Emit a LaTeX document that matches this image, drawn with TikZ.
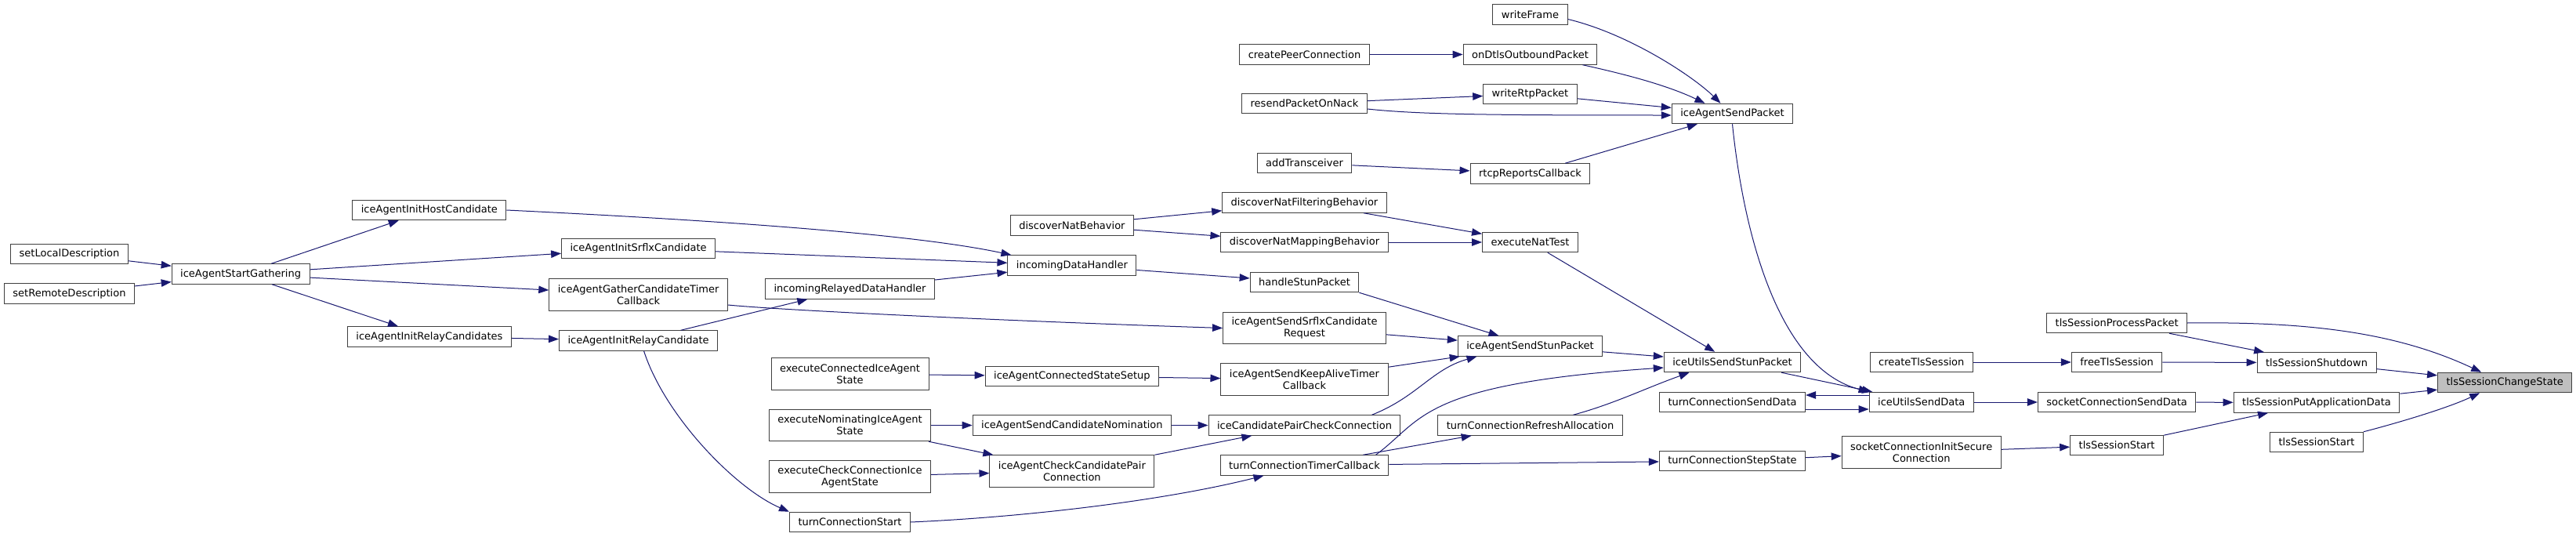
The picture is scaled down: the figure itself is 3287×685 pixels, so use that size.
\documentclass[tikz,border=0pt]{standalone}
\usepackage{fontspec}
\setmainfont{DejaVu Sans}
\usetikzlibrary{arrows.meta}
\definecolor{edgeblue}{HTML}{191970}
\definecolor{boxline}{HTML}{404040}
\definecolor{rootfill}{HTML}{BFBFBF}
\begin{document}
\begin{tikzpicture}[x=1pt, y=-1pt,
    fn/.style={draw=boxline, line width=1pt, fill=white, inner xsep=11pt, inner ysep=1pt,
      minimum height=25.5pt, align=center, font=\fontsize{13}{15}\selectfont},
    fn2/.style={fn, minimum height=40.5pt},
    root/.style={fn, fill=rootfill},
    call/.style={draw=edgeblue, line width=1pt, -{Triangle[length=13pt,width=9.5pt]}}]
    \useasboundingbox (0,0) rectangle (3287,685);
    \node[fn] (setLocal) at (88.5,324) {setLocalDescription};
    \node[fn] (setRemote) at (88.5,374.5) {setRemoteDescription};
    \node[fn] (gather) at (307.1,349.5) {iceAgentStartGathering};
    \node[fn] (initHost) at (547.9,268) {iceAgentInitHostCandidate};
    \node[fn] (initRelays) at (547.9,429.5) {iceAgentInitRelayCandidates};
    \node[fn] (initSrflx) at (814.6,317) {iceAgentInitSrflxCandidate};
    \node[fn2] (gatherTimer) at (814.6,376) {iceAgentGatherCandidateTimer\\Callback};
    \node[fn] (initRelay) at (814.6,434.5) {iceAgentInitRelayCandidate};
    \node[fn] (relayedHandler) at (1084.5,368.5) {incomingRelayedDataHandler};
    \node[fn2] (execConnected) at (1084.5,477) {executeConnectedIceAgent\\State};
    \node[fn2] (execNominating) at (1084.5,542.5) {executeNominatingIceAgent\\State};
    \node[fn2] (execCheck) at (1084.5,608) {executeCheckConnectionIce\\AgentState};
    \node[fn] (turnStart) at (1084.5,666) {turnConnectionStart};
    \node[fn] (natBehavior) at (1367.9,287.5) {discoverNatBehavior};
    \node[fn] (dataHandler) at (1367.9,338.5) {incomingDataHandler};
    \node[fn] (connectedSetup) at (1367.9,480) {iceAgentConnectedStateSetup};
    \node[fn] (sendNomination) at (1367.9,542.5) {iceAgentSendCandidateNomination};
    \node[fn2] (checkPair) at (1367.9,601) {iceAgentCheckCandidatePair\\Connection};
    \node[fn] (createPC) at (1664.5,69.5) {createPeerConnection};
    \node[fn] (resendNack) at (1664.5,132) {resendPacketOnNack};
    \node[fn] (addTrans) at (1664.5,208) {addTransceiver};
    \node[fn] (natFiltering) at (1664.5,258.5) {discoverNatFilteringBehavior};
    \node[fn] (natMapping) at (1664.5,309) {discoverNatMappingBehavior};
    \node[fn] (handleStun) at (1664.5,360) {handleStunPacket};
    \node[fn2] (srflxRequest) at (1664.5,418.5) {iceAgentSendSrflxCandidate\\Request};
    \node[fn2] (keepAlive) at (1664.5,484) {iceAgentSendKeepAliveTimer\\Callback};
    \node[fn] (pairCheck) at (1664.5,542.5) {iceCandidatePairCheckConnection};
    \node[fn] (turnTimer) at (1664.5,593.5) {turnConnectionTimerCallback};
    \node[fn] (writeFrame) at (1952.5,18.5) {writeFrame};
    \node[fn] (dtlsOut) at (1952.5,69.5) {onDtlsOutboundPacket};
    \node[fn] (writeRtp) at (1952.5,120) {writeRtpPacket};
    \node[fn] (rtcpReports) at (1952.5,221.5) {rtcpReportsCallback};
    \node[fn] (natTest) at (1952.5,309) {executeNatTest};
    \node[fn] (sendStun) at (1952.5,441.5) {iceAgentSendStunPacket};
    \node[fn] (turnRefresh) at (1952.5,542.5) {turnConnectionRefreshAllocation};
    \node[fn] (sendPacket) at (2210.5,145) {iceAgentSendPacket};
    \node[fn] (utilsStun) at (2210.5,462) {iceUtilsSendStunPacket};
    \node[fn] (turnSend) at (2210.5,513) {turnConnectionSendData};
    \node[fn] (turnStep) at (2210.5,588) {turnConnectionStepState};
    \node[fn] (createTls) at (2451.7,462) {createTlsSession};
    \node[fn] (utilsData) at (2451.7,513) {iceUtilsSendData};
    \node[fn2] (initSecure) at (2451.7,577) {socketConnectionInitSecure\\Connection};
    \node[fn] (tlsProcess) at (2701.1,412) {tlsSessionProcessPacket};
    \node[fn] (freeTls) at (2701.1,462) {freeTlsSession};
    \node[fn] (socketSend) at (2701.1,513) {socketConnectionSendData};
    \node[fn] (tlsStartA) at (2701.1,568) {tlsSessionStart};
    \node[fn] (tlsShutdown) at (2956,462.5) {tlsSessionShutdown};
    \node[fn] (tlsPut) at (2956,513.5) {tlsSessionPutApplicationData};
    \node[fn] (tlsStartB) at (2956,564) {tlsSessionStart};
    \node[root] (tlsChange) at (3196.2,488) {tlsSessionChangeState};
    \draw[call] (setLocal) -- (gather);
    \draw[call] (setRemote) -- (gather);
    \draw[call] (gather) -- (initHost);
    \draw[call] (gather) -- (initRelays);
    \draw[call] (gather) -- (initSrflx);
    \draw[call] (gather) -- (gatherTimer);
    \draw[call] (initRelays) -- (initRelay);
    \draw[call] (initRelay) -- (relayedHandler);
    \draw[call] ([xshift=7pt]initRelay.south) .. controls (848,530) and (938,623) .. (turnStart.north west);
    \draw[call] (initHost.east) .. controls (850,278) and (1150,295) .. ([xshift=5pt]dataHandler.north west);
    \draw[call] (initSrflx) -- (dataHandler);
    \draw[call] (relayedHandler) -- (dataHandler);
    \draw[call] ([yshift=-13pt]gatherTimer.east) .. controls (1000,396) and (1300,410) .. (srflxRequest.west);
    \draw[call] (natBehavior) -- (natFiltering);
    \draw[call] (natBehavior) -- (natMapping);
    \draw[call] (dataHandler) -- (handleStun);
    \draw[call] (natFiltering) -- (natTest);
    \draw[call] (natMapping) -- (natTest);
    \draw[call] (createPC) -- (dtlsOut);
    \draw[call] (resendNack) -- (writeRtp);
    \draw[call] ([yshift=-7pt]resendNack.east) .. controls (1810,146) and (1900,147) .. ([yshift=-2pt]sendPacket.west);
    \draw[call] (addTrans) -- (rtcpReports);
    \draw[call] ([yshift=-6pt]writeFrame.east) .. controls (2078,43) and (2160,97) .. ([xshift=-15pt]sendPacket.north);
    \draw[call] ([xshift=67pt]dtlsOut.south) .. controls (2080,96) and (2130,110) .. ([xshift=-35pt]sendPacket.north);
    \draw[call] (writeRtp) -- (sendPacket);
    \draw[call] (rtcpReports) -- (sendPacket);
    \draw[call] (natTest) -- (utilsStun);
    \draw[call] (sendPacket.south) .. controls (2225,300) and (2270,470) .. (utilsData.north west);
    \draw[call] (handleStun.south east) -- ([xshift=-40pt]sendStun.north);
    \draw[call] (srflxRequest) -- (sendStun);
    \draw[call] (keepAlive) -- (sendStun);
    \draw[call] ([xshift=86pt]pairCheck.north) .. controls (1809,506) and (1827,471) .. ([xshift=-68pt]sendStun.south);
    \draw[call] (sendStun) -- (utilsStun);
    \draw[call] ([xshift=91pt]turnTimer.north) .. controls (1816,536) and (1810,490) .. ([yshift=-7pt]utilsStun.west);
    \draw[call] (turnTimer) -- (turnRefresh);
    \draw[call] (turnTimer) -- (turnStep);
    \draw[call] ([xshift=55pt]turnRefresh.north) .. controls (2060,515) and (2100,495) .. ([xshift=-55pt]utilsStun.south);
    \draw[call] (utilsStun) -- (utilsData);
    \draw[call] ([yshift=9pt]utilsData.west) -- ([yshift=9pt]turnSend.east);
    \draw[call] ([yshift=-9pt]turnSend.east) -- ([yshift=-9pt]utilsData.west);
    \draw[call] (utilsData) -- (socketSend);
    \draw[call] (turnStep) -- (initSecure);
    \draw[call] (initSecure) -- (tlsStartA);
    \draw[call] (createTls) -- (freeTls);
    \draw[call] (freeTls) -- (tlsShutdown);
    \draw[call] (tlsProcess) -- (tlsShutdown);
    \draw[call] (tlsProcess.east) .. controls (2950,410) and (3060,425) .. ([xshift=-30pt]tlsChange.north);
    \draw[call] (tlsShutdown) -- (tlsChange);
    \draw[call] (socketSend) -- (tlsPut);
    \draw[call] (tlsStartA) -- (tlsPut);
    \draw[call] (tlsPut) -- (tlsChange);
    \draw[call] (tlsStartB.north east) .. controls (3050,542) and (3120,522) .. ([xshift=-32pt]tlsChange.south);
    \draw[call] (execConnected) -- (connectedSetup);
    \draw[call] (connectedSetup) -- (keepAlive);
    \draw[call] (execNominating) -- (sendNomination);
    \draw[call] (execNominating) -- (checkPair);
    \draw[call] (execCheck) -- (checkPair);
    \draw[call] (sendNomination) -- (pairCheck);
    \draw[call] (checkPair) -- (pairCheck);
    \draw[call] (turnStart.east) .. controls (1300,660) and (1480,640) .. ([xshift=-52pt]turnTimer.south);
\end{tikzpicture}
\end{document}
